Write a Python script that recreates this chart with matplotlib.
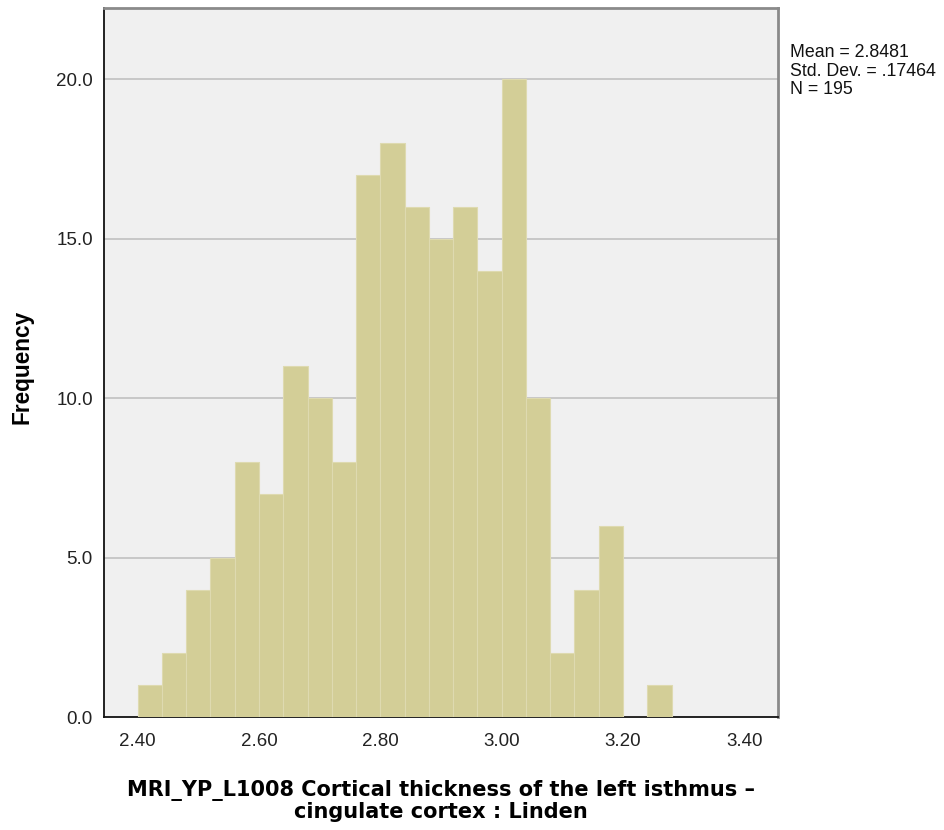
import numpy as np
import matplotlib
matplotlib.use("Agg")
import matplotlib.pyplot as plt

plt.rcParams["font.family"] = ["Liberation Sans", "DejaVu Sans"]

# histogram bins (width .04 starting at 2.40) and counts
bin_start = 2.40
bin_width = 0.04
counts = [1, 2, 4, 5, 8, 7, 11, 10, 8, 17, 18, 16, 15, 16, 14, 20, 10, 2, 4, 6, 0, 1]
x_ticks = [2.40, 2.60, 2.80, 3.00, 3.20, 3.40]
y_ticks = [0.0, 5.0, 10.0, 15.0, 20.0]

stats_text = "Mean = 2.8481\nStd. Dev. = .17464\nN = 195"
x_title = "MRI_YP_L1008 Cortical thickness of the left isthmus \u2013\ncingulate cortex : Linden"

BAR = "#d3ce97"
BG = "#f0f0f0"

fig = plt.figure(figsize=(9.45, 8.30), dpi=100)
ax = fig.add_axes([0.110, 0.136, 0.713, 0.854])
ax.set_facecolor(BG)

lefts = bin_start + bin_width * np.arange(len(counts))
ax.bar(lefts, counts, width=bin_width, align="edge", color=BAR,
       edgecolor="#dedab0", linewidth=0.8, zorder=3)

ax.set_xlim(2.3445, 3.455)
ax.set_ylim(0, 22.23)
ax.set_xticks(x_ticks)
ax.set_xticklabels(["%.2f" % v for v in x_ticks])
ax.set_yticks(y_ticks)
ax.set_yticklabels(["%.1f" % v for v in y_ticks])
ax.tick_params(axis="both", length=0, labelsize=13.5, colors="#222222")
ax.tick_params(axis="x", pad=11.5)
ax.tick_params(axis="y", pad=8)

for y in y_ticks[1:]:
    ax.axhline(y, color="#bdbdbd", linewidth=1.1, zorder=1)

for side in ["left", "bottom"]:
    ax.spines[side].set_color("#111111")
    ax.spines[side].set_linewidth(1.3)
for side in ["top", "right"]:
    ax.spines[side].set_color("#8a8a8a")
    ax.spines[side].set_linewidth(2.0)

fig.text(22 / 945, 1 - 367 / 830, "Frequency", rotation=90, ha="center",
         va="center", fontsize=16.3, fontweight="bold")
fig.text(441 / 945, 1 - 801 / 830, x_title, ha="center", va="center",
         multialignment="center", fontsize=15, fontweight="bold",
         family="DejaVu Sans", linespacing=1.05)
fig.text(790 / 945, 1 - 44 / 830, stats_text, ha="left", va="top",
         fontsize=12.8, linespacing=1.12, color="#111111")

fig.savefig("out.png", dpi=100)
